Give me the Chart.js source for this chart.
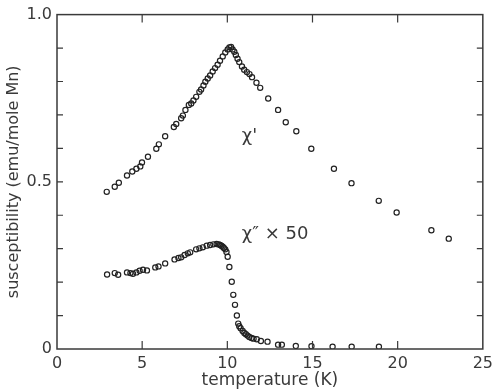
<!DOCTYPE html>
<html>
<head>
<meta charset="utf-8">
<script src="https://cdn.jsdelivr.net/npm/chart.js@4"></script>
<style>
  html, body { margin: 0; padding: 0; background: #fff; }
  #wrap { width: 498px; height: 391px; }
</style>
</head>
<body>
<div id="wrap"><canvas id="c" width="498" height="391"></canvas></div>
<script>
// chi' (real part) : temperature (K), susceptibility
const chiPrimeT = [2.92,3.39,3.63,4.11,4.42,4.66,4.89,4.99,5.34,5.83,5.98,6.35,6.86,7.00,7.29,7.39,7.54,7.74,7.88,8.01,8.17,8.36,8.46,8.60,8.71,8.85,8.99,9.14,9.28,9.43,9.57,9.73,9.88,10.02,10.12,10.22,10.31,10.41,10.50,10.60,10.70,10.86,10.99,11.15,11.30,11.45,11.71,11.93,12.40,12.98,13.43,14.05,14.93,16.26,17.29,18.89,19.94,21.98,23.00];
const chiPrimeV = [0.470,0.485,0.497,0.519,0.531,0.539,0.546,0.558,0.575,0.599,0.612,0.636,0.664,0.673,0.690,0.698,0.715,0.730,0.734,0.743,0.754,0.769,0.776,0.788,0.799,0.809,0.818,0.830,0.840,0.850,0.862,0.875,0.887,0.896,0.902,0.903,0.896,0.889,0.879,0.868,0.858,0.845,0.835,0.828,0.822,0.813,0.796,0.781,0.749,0.715,0.678,0.651,0.599,0.539,0.496,0.443,0.408,0.355,0.330];
// chi'' x 50 (imaginary part)
const chiDoubleT = [2.94,3.39,3.59,4.11,4.31,4.46,4.66,4.85,5.05,5.28,5.77,5.96,6.35,6.90,7.13,7.29,7.49,7.68,7.82,8.17,8.36,8.56,8.79,8.99,9.18,9.37,9.50,9.57,9.65,9.73,9.80,9.88,9.95,10.02,10.12,10.26,10.35,10.45,10.56,10.64,10.70,10.78,10.90,11.00,11.09,11.19,11.29,11.42,11.54,11.73,11.97,12.36,12.98,13.20,14.02,14.94,16.18,17.30,18.90];
const chiDoubleV = [0.223,0.227,0.222,0.229,0.227,0.225,0.229,0.234,0.237,0.235,0.244,0.247,0.256,0.268,0.272,0.274,0.281,0.286,0.289,0.298,0.301,0.304,0.309,0.311,0.313,0.314,0.313,0.311,0.309,0.306,0.302,0.298,0.290,0.276,0.245,0.201,0.162,0.132,0.100,0.076,0.068,0.062,0.054,0.048,0.044,0.040,0.036,0.033,0.031,0.029,0.024,0.022,0.013,0.013,0.009,0.008,0.007,0.007,0.007];
const xTickValues = [0,5,10,15,20,25];
const yLabelValues = [0,0.5,1.0];
const yLabelTexts = ['0','0.5','1.0'];
const seriesLabels = ["\u03c7'", "\u03c7\u2033 \u00d7 50"];
const xTitle = 'temperature (K)';
const yTitle = 'susceptibility (emu/mole Mn)';

const toPts = (xs, ys) => xs.map((x, i) => ({x: x, y: ys[i]}));
const ink = '#3a3a3a';
const font = "'DejaVu Sans', sans-serif";

const framePlugin = {
  id: 'frame',
  afterDraw(chart) {
    const ctx = chart.ctx, a = chart.chartArea;
    const xs = chart.scales.x, ys = chart.scales.y;
    ctx.save();
    ctx.strokeStyle = ink;
    ctx.lineWidth = 1.5;
    ctx.strokeRect(a.left, a.top, a.right - a.left, a.bottom - a.top);
    ctx.lineWidth = 1.2;
    ctx.beginPath();
    xTickValues.slice(1, -1).forEach(v => {
      const p = xs.getPixelForValue(v);
      ctx.moveTo(p, a.bottom); ctx.lineTo(p, a.bottom - 8);
      ctx.moveTo(p, a.top); ctx.lineTo(p, a.top + 8);
    });
    for (let k = 1; k < 10; k++) {
      const p = ys.getPixelForValue(k / 10);
      ctx.moveTo(a.left, p); ctx.lineTo(a.left + 6, p);
      ctx.moveTo(a.right, p); ctx.lineTo(a.right - 6, p);
    }
    ctx.stroke();
    // series labels
    ctx.fillStyle = ink;
    ctx.font = '18px ' + font;
    ctx.textBaseline = 'middle';
    ctx.textAlign = 'left';
    ctx.fillText(seriesLabels[0], xs.getPixelForValue(10.85), ys.getPixelForValue(0.635));
    ctx.fillText(seriesLabels[1], xs.getPixelForValue(10.85), ys.getPixelForValue(0.342));
    ctx.restore();
  }
};

new Chart(document.getElementById('c'), {
  type: 'scatter',
  data: {
    datasets: [
      { data: toPts(chiPrimeT, chiPrimeV) },
      { data: toPts(chiDoubleT, chiDoubleV) }
    ]
  },
  options: {
    responsive: false,
    animation: false,
    devicePixelRatio: 1,
    layout: { padding: { top: 9, right: 13, left: 0, bottom: 0 } },
    elements: {
      point: { radius: 2.6, borderWidth: 1.2, borderColor: '#222', backgroundColor: 'rgba(255,255,255,0)', pointStyle: 'circle' }
    },
    plugins: { legend: { display: false }, tooltip: { enabled: false } },
    scales: {
      x: {
        type: 'linear', min: 0, max: 25,
        afterFit(s) { s.height = 42; },
        grid: { display: false, drawTicks: false },
        border: { display: false },
        afterBuildTicks(s) { s.ticks = xTickValues.map(v => ({value: v})); },
        ticks: { padding: 5, color: ink, font: { family: font, size: 16 }, maxRotation: 0, callback: v => String(v) },
        title: { display: true, text: xTitle, color: ink, font: { family: font, size: 17 }, padding: { top: 0, bottom: 0 } }
      },
      y: {
        type: 'linear', min: 0, max: 1,
        afterFit(s) { s.width = 57; },
        grid: { display: false, drawTicks: false },
        border: { display: false },
        afterBuildTicks(s) { s.ticks = yLabelValues.map(v => ({value: v})); },
        ticks: { padding: 5, color: ink, font: { family: font, size: 16 },
          callback: v => { const i = yLabelValues.findIndex(t => Math.abs(t - v) < 1e-9); return i >= 0 ? yLabelTexts[i] : ''; } },
        title: { display: true, text: yTitle, color: ink, font: { family: font, size: 16 }, padding: { top: 4, bottom: 0 } }
      }
    }
  },
  plugins: [framePlugin]
});
</script>
</body>
</html>
